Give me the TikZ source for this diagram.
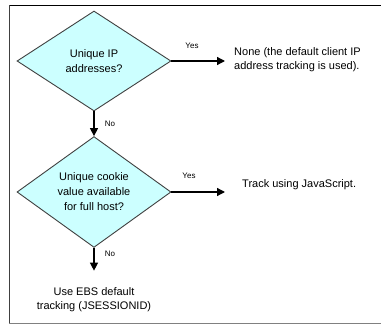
\documentclass[tikz,border=0pt]{standalone}
\usepackage{fontspec}
\setmainfont{Liberation Sans}
\usetikzlibrary{shapes.geometric,arrows.meta}
\definecolor{diafill}{HTML}{CCFFFF}
\definecolor{diaedge}{HTML}{404040}
\tikzset{
  dia/.style={shape=diamond, draw=diaedge, line width=0.9pt, fill=diafill, inner sep=0pt,
    minimum width=154pt, minimum height=100pt, align=center,
    font=\fontsize{11}{15}\selectfont},
  txt/.style={inner sep=0pt, align=left, font=\fontsize{11}{14}\selectfont},
  lbl/.style={inner sep=0pt, font=\fontsize{8}{9}\selectfont},
  arr/.style={line width=1.3pt, -{Triangle[length=8pt,width=8pt]}},
}
\begin{document}
\begin{tikzpicture}[x=1pt,y=-1pt]
\useasboundingbox (0,0) rectangle (381,324);
% frame
\draw[line width=1pt, black] (9,5) -- (381,5);
\draw[line width=1pt, diaedge] (9,5) -- (9,323);
\draw[line width=1pt, gray] (9,323) -- (381,323);
% decisions
\node[dia] (d1) at (94,61) {Unique IP\\addresses?};
\node[dia] (d2) at (94,192) {Unique cookie\\value available\\for full host?};
% outcomes
\node[txt, anchor=west] (t1) at (234,60) {None (the default client IP\\address tracking is used).};
\node[txt, anchor=west] (t2) at (242,185) {Track using JavaScript.};
\node[txt, align=center] (t3) at (94,300) {Use EBS default\\tracking (JSESSIONID)};
% connectors
\draw[arr, shorten >=9pt] (d1.east) -- (d1.east -| t1.west);
\draw[arr, shorten >=17pt] (d2.east) -- (d2.east -| t2.west);
\draw[arr] (d1.south) -- (d2.north);
\draw[arr, shorten >=17pt] (d2.south) -- (t3.north);
% labels
\node[lbl] (y1) at (192,46) {Yes};
\node[lbl] (y2) at (189,176) {Yes};
\node[lbl] (n1) at (110,124) {No};
\node[lbl] (n2) at (110,254) {No};
\end{tikzpicture}
\end{document}
